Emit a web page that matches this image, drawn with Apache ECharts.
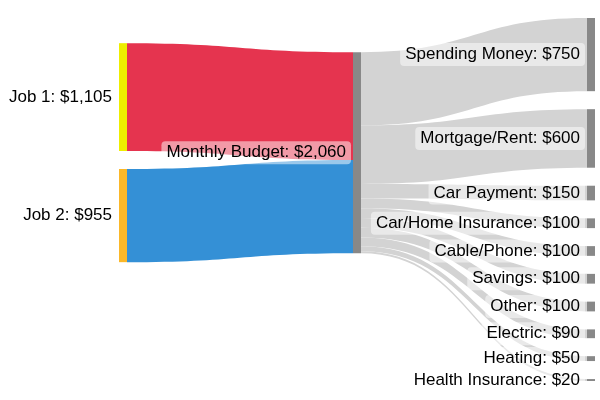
<!DOCTYPE html>
<html><head><meta charset="utf-8">
<script src="https://cdn.jsdelivr.net/npm/echarts@6/dist/echarts.min.js"></script>
<style>html,body{margin:0;padding:0;background:#fff}#c{width:600px;height:400px}</style>
</head><body><div id="c"></div>
<script>
var incomeNames = ['Job 1', 'Job 2'];
var incomeValues = [1105, 955];
var incomeNodeColors = ['#eeee00', '#fbb829'];
var incomeLinkColors = ['#e5344f', '#3490d6'];
var budgetName = 'Monthly Budget';
var expenseNames = ['Spending Money', 'Mortgage/Rent', 'Car Payment', 'Car/Home Insurance', 'Cable/Phone', 'Savings', 'Other', 'Electric', 'Heating', 'Health Insurance'];
var expenseValues = [750, 600, 150, 100, 100, 100, 100, 90, 50, 20];

var NODE_GAP = 18;
var TOP = 18, BOTTOM = 19;
var VIEW_H = 400 - TOP - BOTTOM;

function buildNodes(localYs) {
  var nodes = [];
  incomeNames.forEach(function (n, i) {
    var o = { name: n, itemStyle: { color: incomeNodeColors[i] } };
    if (localYs && localYs[n] != null) o.localY = localYs[n];
    nodes.push(o);
  });
  var b = { name: budgetName, itemStyle: { color: '#888888' } };
  if (localYs && localYs[budgetName] != null) b.localY = localYs[budgetName];
  nodes.push(b);
  expenseNames.forEach(function (n) { nodes.push({ name: n, itemStyle: { color: '#888888' } }); });
  return nodes;
}
var links = [];
incomeNames.forEach(function (n, i) { links.push({ source: n, target: budgetName, value: incomeValues[i], lineStyle: { color: incomeLinkColors[i] } }); });
expenseNames.forEach(function (n, i) { links.push({ source: budgetName, target: n, value: expenseValues[i], lineStyle: { color: '#d3d3d3' } }); });

var chart = echarts.init(document.getElementById('c'));
function makeOption(nodes) {
  return {
    animation: false,
    series: [{
      type: 'sankey',
      left: 119, right: 5, top: TOP, bottom: BOTTOM,
      nodeWidth: 8,
      nodeGap: NODE_GAP,
      layoutIterations: 32,
      draggable: false,
      emphasis: { disabled: true },
      data: nodes,
      links: links,
      lineStyle: { opacity: 1, curveness: 0.5 },
      itemStyle: { borderWidth: 0 },
      label: {
        position: 'left',
        distance: 2,
        color: '#000',
        fontFamily: 'Liberation Sans, Arial, sans-serif',
        fontSize: 17,
        backgroundColor: 'rgba(255,255,255,0.5)',
        borderRadius: 4,
        padding: [3, 5],
        formatter: function (p) {
          return p.name + ': $' + p.value.toLocaleString('en-US');
        }
      }
    }]
  };
}
chart.setOption(makeOption(buildNodes(null)));

// Re-center the middle and left columns on the value-weighted centre of the
// library-computed right column (d3-style converged layout).
try {
  var graph = chart.getModel().getSeriesByIndex(0).getGraph();
  var lay = {};
  graph.nodes.forEach(function (nd) { lay[nd.id] = nd.getLayout(); });
  var sw = 0, sv = 0;
  expenseNames.forEach(function (n, i) {
    var l = lay[n];
    sw += (l.y + l.dy / 2) * expenseValues[i];
    sv += expenseValues[i];
  });
  var T = sw / sv;
  var ly = {};
  ly[budgetName] = (T - lay[budgetName].dy / 2) / VIEW_H;
  var tot = NODE_GAP * (incomeNames.length - 1);
  incomeNames.forEach(function (n) { tot += lay[n].dy; });
  var y = T - tot / 2;
  incomeNames.forEach(function (n) {
    ly[n] = y / VIEW_H;
    y += lay[n].dy + NODE_GAP;
  });
  chart.setOption(makeOption(buildNodes(ly)), true);
} catch (e) { console.log(e); }
</script></body></html>
